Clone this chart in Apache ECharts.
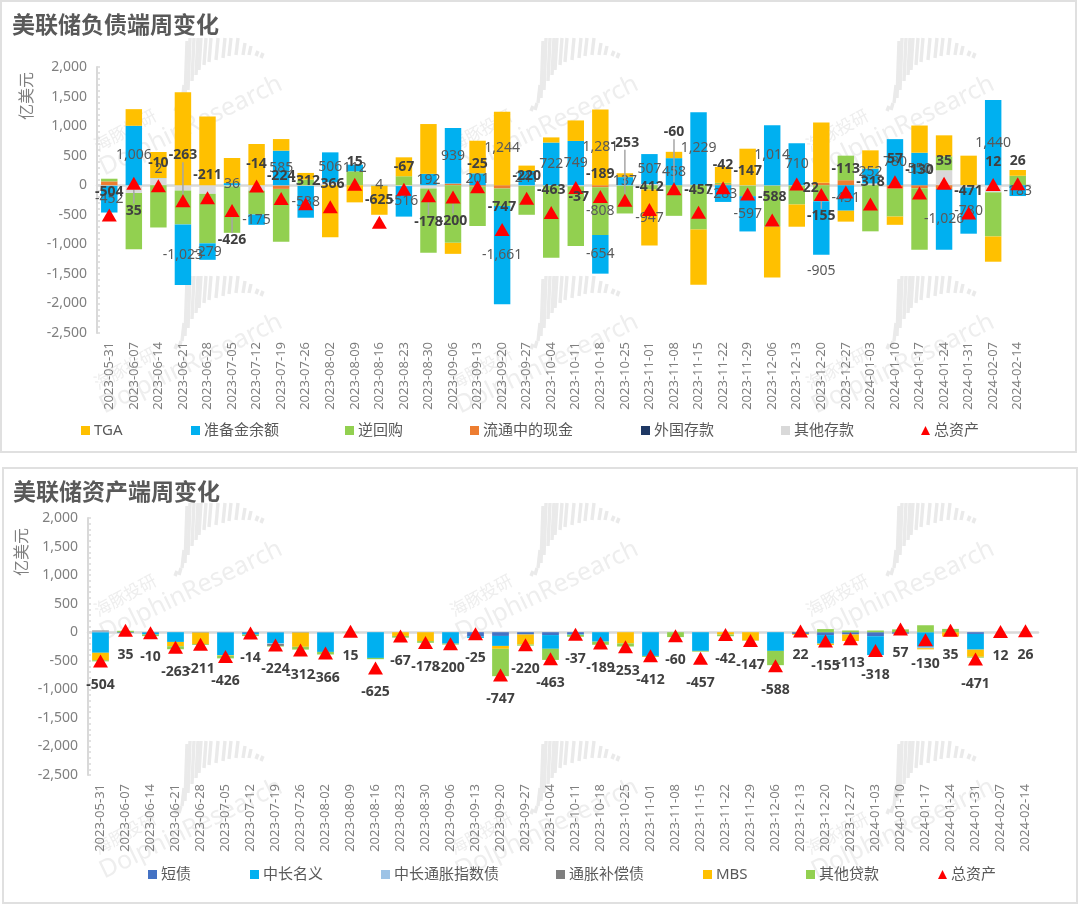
<!DOCTYPE html>
<html lang="en">
<head>
    <meta charset="UTF-8">
    <title>美联储资产负债表周变化</title>
    <script src="https://cdn.jsdelivr.net/npm/echarts@6/dist/echarts.min.js"></script>
    <style>
        html, body { margin: 0; padding: 0; background: #fff; }
        #main { width: 1080px; height: 904px; }
    </style>
</head>
<body>
<div id="main"></div>
<script type="text/javascript">
    var dates = ['2023-05-31','2023-06-07','2023-06-14','2023-06-21','2023-06-28','2023-07-05','2023-07-12','2023-07-19','2023-07-26','2023-08-02','2023-08-09','2023-08-16','2023-08-23','2023-08-30','2023-09-06','2023-09-13','2023-09-20','2023-09-27','2023-10-04','2023-10-11','2023-10-18','2023-10-25','2023-11-01','2023-11-08','2023-11-15','2023-11-22','2023-11-29','2023-12-06','2023-12-13','2023-12-20','2023-12-27','2024-01-03','2024-01-10','2024-01-17','2024-01-24','2024-01-31','2024-02-07','2024-02-14'];
    var totalAssets = [-504,35,-10,-263,-211,-426,-14,-224,-312,-366,15,-625,-67,-178,-200,-25,-747,-220,-463,-37,-189,-253,-412,-60,-457,-42,-147,-588,22,-155,-113,-318,57,-130,35,-471,12,26];

    // 负债端
    var tga      = [0,281,440,1573,1163,425,697,196,113,-880,-290,-490,320,843,-186,552,1244,91,87,347,1281,65,-947,107,-933,270,618,-860,-376,1020,-185,308,-140,460,355,500,-427,98];
    var reserves = [-452,1006,2,-1023,-279,36,-175,585,-538,506,112,4,-516,192,939,201,-1661,241,722,749,-654,137,507,458,1229,-283,-597,1014,710,-905,-431,252,780,550,-1026,-780,1440,-183];
    var rrp      = [45,-955,-715,-573,-837,-785,-405,-893,95,0,236,0,152,-1085,-975,-670,-296,-490,-1215,-1010,-808,-470,-73,-518,-750,25,-178,-695,-320,-270,415,-780,-470,-1040,236,0,-747,160];
    var currency = [65,0,0,0,0,0,0,-55,0,0,0,0,0,0,28,-20,-55,0,0,0,-34,0,0,0,0,15,0,0,0,40,85,0,-60,-50,-64,0,0,0];
    var foreign  = [0,0,0,0,0,0,0,0,0,0,0,0,0,0,0,0,0,0,0,0,0,0,0,0,0,0,0,0,0,0,0,0,0,0,0,0,0,0];
    var otherDep = [-10,-130,120,-90,-146,-20,-90,-7,-12,50,0,-10,-15,-56,0,0,0,-10,-10,-18,0,-8,20,0,7,0,-7,-7,-6,0,0,30,0,0,253,-40,-120,0];

    // 资产端
    var shortBills = [0,-12,-8,0,-6,-6,-12,-5,-6,-5,0,0,0,0,0,-75,-65,-40,-50,-35,0,0,0,0,0,0,0,0,-30,-50,-40,-70,-25,0,0,-30,0,0];
    var nominal    = [-360,0,-32,-170,0,-397,-30,-190,0,-340,0,-450,0,0,-200,-25,-175,0,-240,-10,-165,0,-415,0,-327,0,0,-327,0,-150,0,-330,0,-255,0,-275,0,0];
    var tips       = [15,0,0,0,0,0,0,-10,0,0,0,0,0,0,0,0,0,0,0,0,0,0,0,0,0,0,0,0,0,0,0,0,0,-25,0,0,0,0];
    var inflComp   = [15,0,0,0,0,0,0,-35,0,0,0,0,0,0,0,0,0,0,0,0,0,0,0,0,0,0,0,0,0,0,0,0,0,0,0,0,0,0];
    var mbs        = [-130,0,0,-75,-200,-10,0,0,-250,0,0,0,-65,-155,0,0,-50,-175,0,0,0,-195,0,0,0,-40,-145,0,-15,-25,-115,0,0,-20,-75,-125,0,0];
    var otherLoan  = [-20,25,-28,-53,-15,-45,-25,-10,-48,-45,5,-22,-30,-30,-16,0,-480,-20,-195,-35,-55,-55,-17,-85,-13,-30,-5,-250,5,55,30,30,50,122,58,-15,0,0];

    // 哪些点单独标了数字
    var tgaLabelled = [16,20,22];
    var rrpLabelled = [20];
    var reservesShift = {2:-9, 29:43, 31:-4};
    var tipShift = {1:[0,50],3:[0,-23],5:[0,52],13:[0,49],14:[0,46],19:[3,32],21:[0,-35],23:[0,-34],28:[14,27],29:[0,44]};
    var tipLeader = [1,3,5,13,14,21,23,29];

    var GREY_TEXT = '#595959';
    var AXIS_TEXT = '#7f7f7f';
    var FONT = '"Noto Sans", "Noto Sans CJK SC", sans-serif';

    function fmt(v) {
        return Number(v).toLocaleString('en-US');
    }

    function barSeries(name, values, color, grid, opt) {
        opt = opt || {};
        var s = {
            name: name,
            type: 'bar',
            stack: 'g' + grid,
            xAxisIndex: grid * 2,
            yAxisIndex: grid,
            barWidth: '67%',
            itemStyle: { color: color },
            z: 3,
            data: values
        };
        if (opt.labelled) {
            s.data = values.map(function (v, i) {
                return {
                    value: v,
                    label: { show: opt.labelled === 'all' || opt.labelled.indexOf(i) >= 0 }
                };
            });
            s.label = {
                show: false,
                position: 'inside',
                color: GREY_TEXT,
                fontFamily: FONT,
                fontSize: 14,
                formatter: function (p) { return fmt(p.value); }
            };
            if (opt.shift) {
                s.labelLayout = function (p) {
                    return { dy: opt.shift[p.dataIndex] || 0 };
                };
            }
        }
        return s;
    }

    function totalSeries(grid, position) {
        return {
            name: '总资产',
            type: 'scatter',
            xAxisIndex: grid * 2,
            yAxisIndex: grid,
            symbol: 'triangle',
            symbolSize: [15, 13],
            itemStyle: { color: '#ff0000', opacity: 1 },
            z: 6,
            label: {
                show: true,
                position: position,
                distance: grid === 0 ? 9 : 11,
                color: '#404040',
                fontWeight: 'bold',
                fontFamily: FONT,
                fontSize: 14,
                formatter: function (p) { return fmt(p.value); }
            },
            labelLine: { lineStyle: { color: '#a6a6a6', width: 1.5 } },
            labelLayout: grid === 0 ? function (p) {
                var d = tipShift[p.dataIndex];
                return d ? { dx: d[0], dy: d[1] } : {};
            } : undefined,
            data: totalAssets.map(function (v, i) {
                var item = { value: v };
                if (grid === 0 && tipLeader.indexOf(i) >= 0) {
                    item.labelLine = { show: true };
                }
                return item;
            })
        };
    }

    function xAxes(grid) {
        return [
            {
                type: 'category',
                gridIndex: grid,
                data: dates,
                position: 'bottom',
                axisLine: { show: false, onZero: false },
                axisTick: { show: false },
                axisLabel: {
                    rotate: 90,
                    interval: 0,
                    margin: 9,
                    color: AXIS_TEXT,
                    fontFamily: FONT,
                    fontSize: 13
                }
            },
            {
                // 0 轴那条粗线
                type: 'category',
                gridIndex: grid,
                data: dates,
                axisLine: { show: true, onZero: true, lineStyle: { color: '#d9d9d9', width: 2.5 } },
                axisTick: { show: false },
                axisLabel: { show: false }
            }
        ];
    }

    function yAxis(grid) {
        return {
            type: 'value',
            gridIndex: grid,
            min: -2500,
            max: 2000,
            interval: 500,
            axisLine: { show: true, lineStyle: { color: '#d9d9d9', width: 2 } },
            axisTick: { show: true, inside: true, length: 3, lineStyle: { color: '#d9d9d9', width: 1.5 } },
            minorTick: { show: true, splitNumber: 5, length: 3, lineStyle: { color: '#d9d9d9', width: 1.5 } },
            splitLine: { show: false },
            axisLabel: {
                margin: 10,
                color: AXIS_TEXT,
                fontFamily: FONT,
                fontSize: 14,
                formatter: function (v) { return fmt(v); }
            }
        };
    }

    // 图例每项单独摆，和原图的间距一致
    var topLegendNames = ['TGA','准备金余额','逆回购','流通中的现金','外国存款','其他存款','总资产'];
    var topLegendLeft = [81,191,345,470,641,781,921];
    var bottomLegendNames = ['短债','中长名义','中长通胀指数债','通胀补偿债','MBS','其他贷款','总资产'];
    var bottomLegendLeft = [148,250,381,556,703,806,938];

    function legends(names, lefts, top) {
        return names.map(function (n, i) {
            return {
                data: [{ name: n, icon: n === '总资产' ? 'triangle' : 'rect' }],
                left: lefts[i],
                top: top,
                itemWidth: 9,
                itemHeight: 9,
                itemGap: 0,
                padding: 0,
                selectedMode: false,
                textStyle: {
                    color: GREY_TEXT,
                    fontFamily: FONT,
                    fontSize: 15,
                    padding: [0, 0, 0, -1]
                }
            };
        });
    }

    // 水印
    var fanBars = [[-6,68,73],[-2,65,72],[1,47,65],[4,3,60],[7,0,52],[11,0,43],[15,0,37],[18,0,32],[23,0,27],[28,0,24],[35,0,22],[42,0,20],[48,0,18],[55,0,17],[62,5,17],[68,8,17],[75,13,18],[80,15,20]];
    var tileX = [181,537,893];
    var tileY = [38,276,503,741];

    function watermark(x, y) {
        var children = [
            { type: 'text', x: -56, y: 92, rotation: 0.5, style: { text: '海豚投研', fill: '#eeeeee', font: '17px "Noto Sans CJK SC"', align: 'center', verticalAlign: 'middle' } },
            { type: 'text', x: 10, y: 88, rotation: 0.45, style: { text: 'DolphinResearch', fill: '#eeeeee', font: '25px "Noto Sans"', align: 'center', verticalAlign: 'middle' } }
        ];
        fanBars.forEach(function (b) {
            children.push({
                type: 'line',
                shape: { x1: b[0] + 2, y1: b[1], x2: b[0], y2: b[2] },
                style: { stroke: '#eaeaea', lineWidth: 3.4 }
            });
        });
        return { type: 'group', x: x, y: y, z: -5, silent: true, children: children };
    }

    var graphics = [
        { type: 'rect', z: -10, shape: { x: 1, y: 1, width: 1075, height: 451 }, style: { fill: '#fff', stroke: '#e0e0e0', lineWidth: 2 } },
        { type: 'rect', z: -10, shape: { x: 3, y: 468, width: 1074, height: 435 }, style: { fill: '#fff', stroke: '#e0e0e0', lineWidth: 2 } },
        { type: 'text', z: 10, x: 12, y: 13, style: { text: '美联储负债端周变化', fill: GREY_TEXT, font: 'bold 23px "Noto Sans CJK SC"' } },
        { type: 'text', z: 10, x: 13, y: 480, style: { text: '美联储资产端周变化', fill: GREY_TEXT, font: 'bold 23px "Noto Sans CJK SC"' } },
        { type: 'text', z: 10, x: 26, y: 96, rotation: Math.PI / 2, style: { text: '亿美元', fill: AXIS_TEXT, font: '16px "Noto Sans CJK SC"', align: 'center', verticalAlign: 'middle' } },
        { type: 'text', z: 10, x: 21, y: 552, rotation: Math.PI / 2, style: { text: '亿美元', fill: AXIS_TEXT, font: '16px "Noto Sans CJK SC"', align: 'center', verticalAlign: 'middle' } }
    ];
    tileY.forEach(function (y) {
        tileX.forEach(function (x) {
            graphics.push(watermark(x, y));
        });
    });

    var myEcharts = echarts.init(document.getElementById('main'));
    var option = {
        animation: false,
        backgroundColor: '#fff',
        grid: [
            { left: 97, top: 67, width: 933, height: 266 },
            { left: 88, top: 518, width: 950, height: 257 }
        ],
        xAxis: xAxes(0).concat(xAxes(1)),
        yAxis: [yAxis(0), yAxis(1)],
        legend: legends(topLegendNames, topLegendLeft, 423).concat(legends(bottomLegendNames, bottomLegendLeft, 867)),
        graphic: graphics,
        series: [
            // 堆叠顺序从 0 轴往外
            barSeries('其他存款', otherDep, '#d9d9d9', 0),
            barSeries('外国存款', foreign, '#1f3864', 0),
            barSeries('流通中的现金', currency, '#ed7d31', 0),
            barSeries('逆回购', rrp, '#92d050', 0, { labelled: rrpLabelled }),
            barSeries('准备金余额', reserves, '#00b0f0', 0, { labelled: 'all', shift: reservesShift }),
            barSeries('TGA', tga, '#ffc000', 0, { labelled: tgaLabelled }),
            totalSeries(0, 'top'),
            barSeries('短债', shortBills, '#4472c4', 1),
            barSeries('中长名义', nominal, '#00b0f0', 1),
            barSeries('中长通胀指数债', tips, '#9dc3e6', 1),
            barSeries('通胀补偿债', inflComp, '#7f7f7f', 1),
            barSeries('MBS', mbs, '#ffc000', 1),
            barSeries('其他贷款', otherLoan, '#92d050', 1),
            totalSeries(1, 'bottom')
        ]
    };
    myEcharts.setOption(option);
</script>
</body>
</html>
